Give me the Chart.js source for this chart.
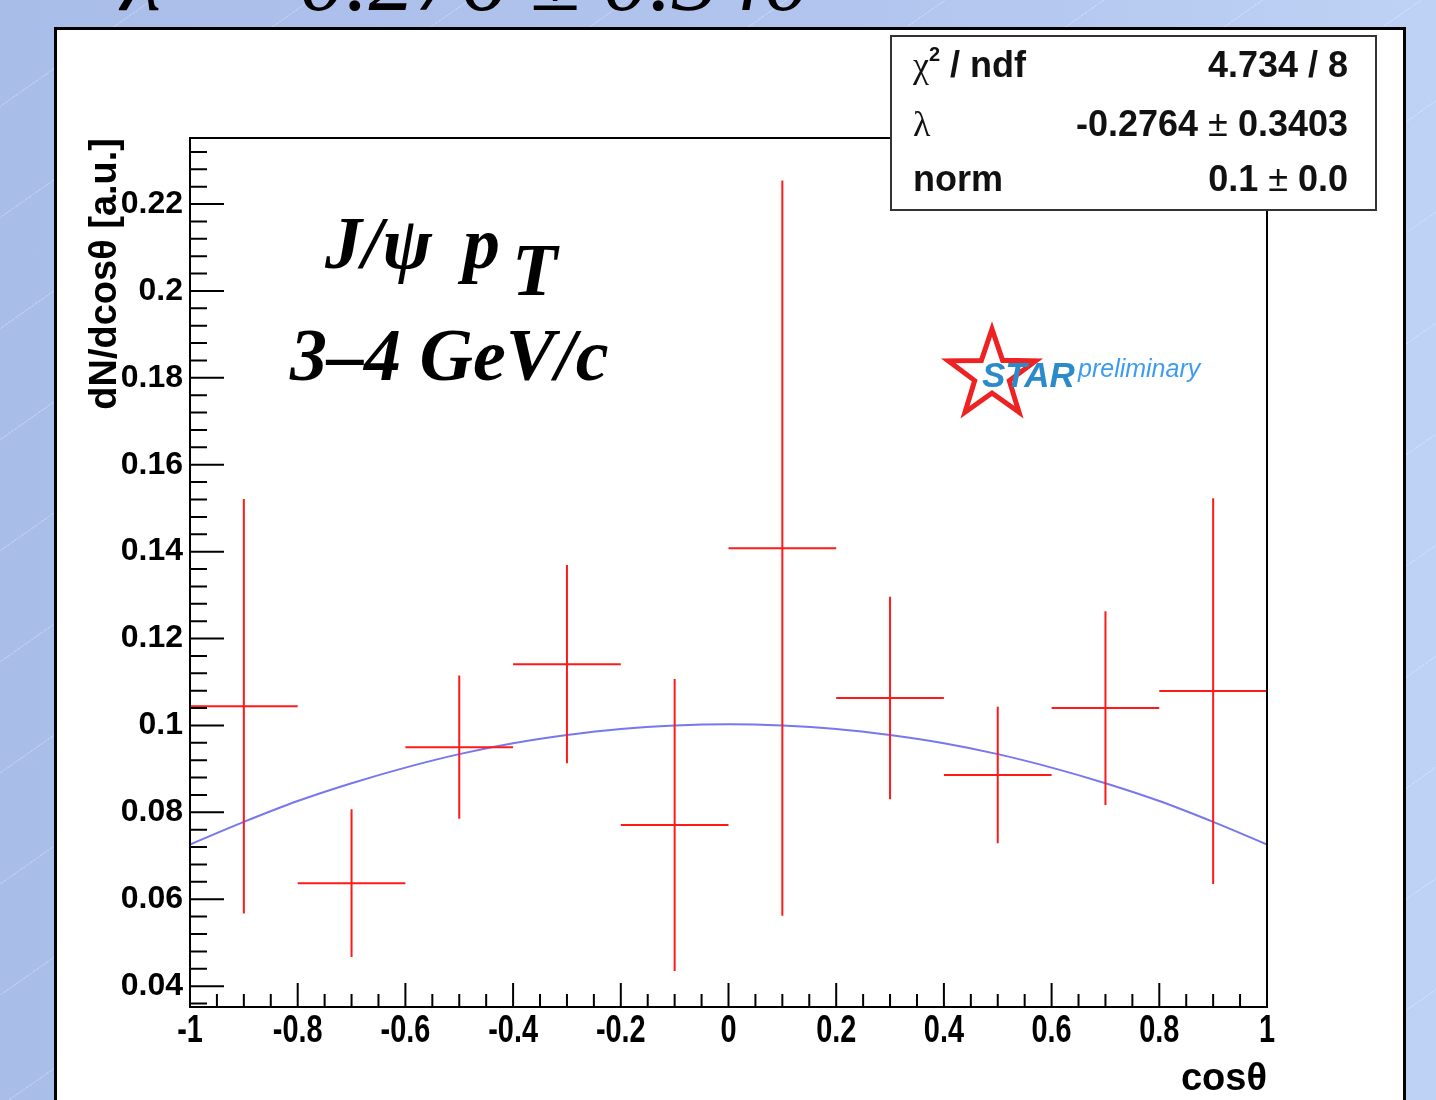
<!DOCTYPE html>
<html>
<head>
<meta charset="utf-8">
<script src="https://cdn.jsdelivr.net/npm/chart.js@4/dist/chart.umd.min.js"></script>
<style>
  html, body { margin: 0; padding: 0; }
  body {
    width: 1436px; height: 1100px; overflow: hidden; position: relative;
    background:
      repeating-linear-gradient(-35deg, rgba(255,255,255,0) 0 90px, rgba(255,255,255,0.22) 90px 91px),
      linear-gradient(90deg, #a9bde9 0%, #b1c5ee 60%, #bed2f5 100%);
    font-family: "Liberation Sans", Arial, sans-serif;
  }
  .panel {
    position: absolute; left: 54px; top: 27px; width: 1352px; height: 1100px;
    box-sizing: border-box; border: 3px solid #000; background: #fff;
  }
  canvas { position: absolute; left: 0; top: 0; }
  .lam {
    position: absolute; left: 121px; top: -67px; white-space: pre;
    font: italic 92px/92px "Liberation Serif", serif; color: #000;
  }
  .big {
    position: absolute; white-space: pre;
    font: italic bold 74px/74px "Liberation Serif", serif; color: #000;
  }
  .stats {
    position: absolute; left: 890px; top: 35px; width: 487px; height: 176px;
    box-sizing: border-box; border: 2px solid #333; background: #fff;
    font-weight: bold; font-size: 36px; color: #111;
  }
  .row {
    position: absolute; left: 21px; right: 27px; height: 40px; line-height: 40px;
    display: flex; justify-content: space-between; align-items: baseline; white-space: pre;
  }
  .sym { font-family: "Liberation Serif", serif; font-weight: normal; }
  .sup { font-size: 20px; position: relative; top: -16px; line-height: 0; }
  .pm { font-weight: normal; }
  .star-txt {
    position: absolute; white-space: pre; font-style: italic;
  }
</style>
</head>
<body>
<div class="panel"></div>
<div class="lam">λ = -0.276 ± 0.340</div>
<canvas id="polChart" width="1436" height="1100"></canvas>

<div class="big" style="left:325px; top:206px;">J/ψ</div>
<div class="big" style="left:463px; top:206px;">p</div>
<div class="big" style="left:512px; top:233px;">T</div>
<div class="big" style="left:290px; top:318px;">3–4 GeV/c</div>

<svg style="position:absolute; left:0; top:0;" width="1436" height="1100">
  <polygon points="992,329 1002.6,360.4 1035.7,360.8 1009.3,380.6 1019,412.2 992,393 965,412.2 974.7,380.6 948.3,360.8 981.4,360.4"
           fill="none" stroke="#ee2222" stroke-width="5" stroke-linejoin="miter"/>
</svg>
<div class="star-txt" style="left:982px; top:355px; font:italic bold 35px/40px 'Liberation Sans', sans-serif; color:#2a8bcb;">STAR</div>
<div class="star-txt" style="left:1078px; top:353px; font:italic 25px/30px 'Liberation Sans', sans-serif; color:#3b9cf0;">preliminary</div>

<div class="stats">
  <div class="row" style="top:8px;"><span><span class="sym">χ</span><span class="sup">2</span> / ndf</span><span>4.734 / 8</span></div>
  <div class="row" style="top:67px;"><span class="sym">λ</span><span>-0.2764 <span class="pm">±</span> 0.3403</span></div>
  <div class="row" style="top:122px;"><span>norm</span><span>0.1 <span class="pm">±</span> 0.0</span></div>
</div>

<script>
// bins in cos(theta)
const binCenters = [-0.9, -0.7, -0.5, -0.3, -0.1, 0.1, 0.3, 0.5, 0.7, 0.9];
const binWidth = 0.2;
const yields = [0.1044, 0.0637, 0.0950, 0.1141, 0.0771, 0.1408, 0.1063, 0.0886, 0.1040, 0.1079];
const yieldErrors = [0.0477, 0.0170, 0.0165, 0.0228, 0.0336, 0.0846, 0.0233, 0.0157, 0.0223, 0.0444];

// fit curve
const fitX = [-1, -0.9, -0.8, -0.7, -0.6, -0.5, -0.4, -0.3, -0.2, -0.1, 0, 0.1, 0.2, 0.3, 0.4, 0.5, 0.6, 0.7, 0.8, 0.9, 1];
const fitY = [0.0726, 0.0778, 0.0826, 0.0867, 0.0903, 0.0934, 0.0959, 0.0978, 0.0992, 0.1000, 0.1003,
              0.1000, 0.0992, 0.0978, 0.0959, 0.0934, 0.0903, 0.0867, 0.0826, 0.0778, 0.0726];

// axis ticks
const xTicks = [-1, -0.8, -0.6, -0.4, -0.2, 0, 0.2, 0.4, 0.6, 0.8, 1];
const xTickLabels = ["-1", "-0.8", "-0.6", "-0.4", "-0.2", "0", "0.2", "0.4", "0.6", "0.8", "1"];
const yTicks = [0.04, 0.06, 0.08, 0.1, 0.12, 0.14, 0.16, 0.18, 0.2, 0.22];
const yTickLabels = ["0.04", "0.06", "0.08", "0.1", "0.12", "0.14", "0.16", "0.18", "0.2", "0.22"];

const FONT = "'Liberation Sans', Arial, sans-serif";

// ROOT-style frame, inward ticks, squeezed x labels
const rootFrame = {
  id: "rootFrame",
  afterDatasetsDraw(chart) {
    const { ctx, chartArea: a, scales: { x, y } } = chart;

    // error crosses
    ctx.save();
    ctx.strokeStyle = "#ff1a1a";
    ctx.lineWidth = 2;
    binCenters.forEach((c, i) => {
      const px = x.getPixelForValue(c);
      const py = y.getPixelForValue(yields[i]);
      ctx.beginPath();
      ctx.moveTo(x.getPixelForValue(c - binWidth / 2), py);
      ctx.lineTo(x.getPixelForValue(c + binWidth / 2), py);
      ctx.moveTo(px, y.getPixelForValue(yields[i] + yieldErrors[i]));
      ctx.lineTo(px, y.getPixelForValue(yields[i] - yieldErrors[i]));
      ctx.stroke();
    });
    ctx.restore();

    ctx.save();
    ctx.strokeStyle = "#000";
    ctx.lineWidth = 2;
    ctx.strokeRect(a.left, a.top, a.right - a.left, a.bottom - a.top);

    ctx.beginPath();
    // y ticks: major every 0.02, minor every 0.004
    yTicks.forEach(v => {
      const py = y.getPixelForValue(v);
      ctx.moveTo(a.left, py); ctx.lineTo(a.left + 34, py);
    });
    for (let v = 0.036; v < y.max; v += 0.004) {
      const py = y.getPixelForValue(v);
      if (py < a.top) break;
      ctx.moveTo(a.left, py); ctx.lineTo(a.left + 17, py);
    }
    // x ticks: major every 0.2, minor every 0.05
    xTicks.forEach(v => {
      const px = x.getPixelForValue(v);
      ctx.moveTo(px, a.bottom); ctx.lineTo(px, a.bottom - 24);
    });
    for (let v = -1; v <= 1.0001; v += 0.05) {
      const px = x.getPixelForValue(v);
      ctx.moveTo(px, a.bottom); ctx.lineTo(px, a.bottom - 13);
    }
    ctx.stroke();

    ctx.fillStyle = "#000";
    ctx.font = "bold 38px " + FONT;
    ctx.textAlign = "center";
    ctx.textBaseline = "alphabetic";
    xTicks.forEach((v, i) => {
      ctx.save();
      ctx.translate(x.getPixelForValue(v), a.bottom + 35);
      ctx.scale(0.76, 1);
      ctx.fillText(xTickLabels[i], 0, 0);
      ctx.restore();
    });
    ctx.restore();
  }
};

const ctx = document.getElementById("polChart");
new Chart(ctx, {
  type: "line",
  data: {
    datasets: [{
      label: "fit",
      data: fitX.map((v, i) => ({ x: v, y: fitY[i] })),
      borderColor: "rgba(95, 95, 235, 0.85)",
      borderWidth: 2,
      pointRadius: 0,
      cubicInterpolationMode: "monotone",
      fill: false
    }]
  },
  options: {
    responsive: false,
    animation: false,
    devicePixelRatio: 1,
    layout: { padding: { left: 83, right: 169, top: 138, bottom: 1 } },
    plugins: { legend: { display: false }, tooltip: { enabled: false } },
    scales: {
      x: {
        type: "linear",
        min: -1, max: 1,
        grid: { display: false, drawTicks: false },
        border: { display: false },
        ticks: { display: false },
        afterFit: s => { s.height = 92; },
        title: {
          display: true, text: "cosθ", align: "end", color: "#000",
          font: { family: FONT, weight: "bold", size: 38, lineHeight: 1 },
          padding: 0
        }
      },
      y: {
        type: "linear",
        min: 0.0352, max: 0.2352,
        grid: { display: false, drawTicks: false },
        border: { display: false },
        afterBuildTicks: s => { s.ticks = yTicks.map(v => ({ value: v })); },
        afterFit: s => { s.width = 107; },
        ticks: {
          color: "#000", padding: 7,
          font: { family: FONT, weight: "bold", size: 32 },
          callback: (v, i) => yTickLabels[i]
        },
        title: {
          display: true, text: "dN/dcosθ [a.u.]", align: "end", color: "#000",
          font: { family: FONT, weight: "bold", size: 38, lineHeight: 1.2 },
          padding: 0
        }
      }
    }
  },
  plugins: [rootFrame]
});
</script>
</body>
</html>
